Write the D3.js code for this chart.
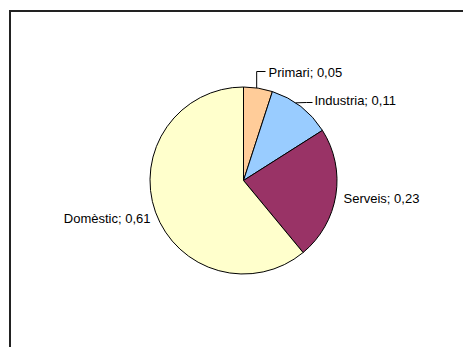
<!DOCTYPE html>
<html>
<head>
<meta charset="utf-8">
<script src="https://cdn.jsdelivr.net/npm/d3@7"></script>
<style>
  body { margin: 0; background: #fff; }
  svg text { font-family: "Liberation Sans", Arial, sans-serif; font-size: 13px; fill: #000; }
</style>
</head>
<body>
<svg id="chart" width="463" height="347"></svg>
<script>
// data
var sectors = ['Primari', 'Industria', 'Serveis', 'Domèstic'];
var shares = [0.05, 0.11, 0.23, 0.61];
var sliceColors = ['#ffcc99', '#99ccff', '#993366', '#ffffcc'];

var svg = d3.select('#chart');
var width = +svg.attr('width');
var height = +svg.attr('height');

// chart frame (right and bottom edges run off the page)
svg.append('rect')
    .attr('x', 10).attr('y', 11)
    .attr('width', width).attr('height', height)
    .attr('fill', 'none')
    .attr('stroke', '#222')
    .attr('stroke-width', 2);

var cx = 243.5, cy = 180.5, radius = 93.5;

var rows = sectors.map((s, i) => ({name: s, value: shares[i]}));

var pie = d3.pie().sort(null).value(d => d.value);
var arc = d3.arc().innerRadius(0).outerRadius(radius);

var pieG = svg.append('g')
    .attr('transform', 'translate(' + [cx, cy] + ')');

var arcs = pie(rows);

pieG.selectAll('path.slice')
    .data(arcs).enter()
    .append('path')
    .attr('class', 'slice')
    .attr('d', arc)
    .attr('fill', (d, i) => sliceColors[i])
    .attr('stroke', '#000')
    .attr('stroke-width', 1);

var fmt = v => v.toFixed(2).replace('.', ',');

// label placement relative to pie centre: [x, y, anchor, leader points]
function edge(d, frac) {
    var a = d.startAngle + (d.endAngle - d.startAngle) * frac;
    return [radius * Math.sin(a), -radius * Math.cos(a)];
}

var labelPos = [
    {dx: 25, dy: -104, anchor: 'start', leader: d => { var e = edge(d, 0.45); return [e, [e[0], -109], [22, -109]]; }},
    {dx: 71, dy: -76, anchor: 'start', leader: d => { var e = edge(d, 0.4); return [e, [63, -78], [69, -78]]; }},
    {dx: 100, dy: 22, anchor: 'start', leader: null},
    {dx: -93, dy: 42, anchor: 'end', leader: null}
];

var line = d3.line();

arcs.forEach((d, i) => {
    var p = labelPos[i];
    if (p.leader) {
        pieG.append('path')
            .attr('d', line(p.leader(d)))
            .attr('fill', 'none')
            .attr('stroke', '#000')
            .attr('stroke-width', 1);
    }
    pieG.append('text')
        .attr('x', p.dx)
        .attr('y', p.dy)
        .attr('text-anchor', p.anchor)
        .text(d.data.name + '; ' + fmt(d.data.value));
});
</script>
</body>
</html>
